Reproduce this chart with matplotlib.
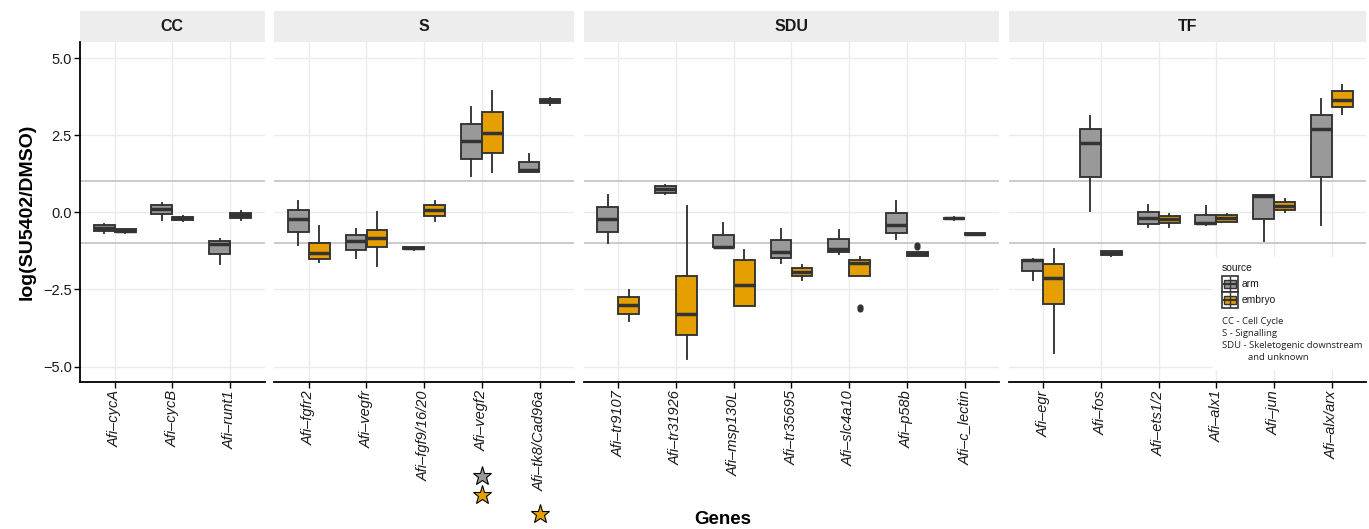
import matplotlib
matplotlib.use("Agg")
import matplotlib.pyplot as plt
from matplotlib.patches import Rectangle
from matplotlib.ticker import FuncFormatter
import matplotlib.transforms as mtrans
import numpy as np

plt.rcParams['font.family'] = ['Liberation Sans', 'DejaVu Sans']

# ---------------- data ----------------
categories = ["CC", "S", "SDU", "TF"]
genes_CC = ["Afi–cycA", "Afi–cycB", "Afi–runt1"]
genes_S = ["Afi–fgfr2", "Afi–vegfr", "Afi–fgf9/16/20", "Afi–vegf2", "Afi–tk8/Cad96a"]
genes_SDU = ["Afi–tr9107", "Afi–tr31926", "Afi–msp130L", "Afi–tr35695",
             "Afi–slc4a10", "Afi–p58b", "Afi–c_lectin"]
genes_TF = ["Afi–egr", "Afi–fos", "Afi–ets1/2", "Afi–alx1", "Afi–jun", "Afi–alx/arx"]
gene_groups = [genes_CC, genes_S, genes_SDU, genes_TF]
all_genes = genes_CC + genes_S + genes_SDU + genes_TF

sources = ["arm", "embryo"]

# arm: lower whisker, Q1, median, Q3, upper whisker
arm_lo  = [-0.66, -0.24, -1.66, -1.05, -1.47, -1.21, 1.18, 1.30, -1.01, 0.58, -1.14, -1.63, -1.36, -0.86, -0.25, -2.20, 0.04, -0.49, -0.40, -0.93, -0.42]
arm_q1  = [-0.61, -0.06, -1.34, -0.64, -1.21, -1.19, 1.73, 1.32, -0.64, 0.64, -1.12, -1.47, -1.29, -0.66, -0.23, -1.91, 1.14, -0.37, -0.39, -0.23, 1.13]
arm_med = [-0.52, 0.12, -1.02, -0.22, -0.92, -1.16, 2.30, 1.38, -0.23, 0.74, -1.11, -1.28, -1.20, -0.42, -0.20, -1.56, 2.25, -0.20, -0.35, 0.52, 2.71]
arm_q3  = [-0.42, 0.24, -0.92, 0.09, -0.72, -1.13, 2.85, 1.64, 0.16, 0.84, -0.72, -0.91, -0.87, -0.01, -0.17, -1.53, 2.70, 0.02, -0.08, 0.55, 3.17]
arm_hi  = [-0.39, 0.30, -0.87, 0.36, -0.53, -1.12, 3.40, 1.90, 0.55, 0.90, -0.35, -0.55, -0.56, 0.37, -0.16, -1.50, 3.12, 0.23, 0.19, 0.56, 3.66]

emb_lo  = [-0.66, -0.27, -0.26, -1.61, -1.74, -0.29, 1.30, 3.49, -3.52, -4.76, -3.05, -2.19, -2.05, -1.41, -0.75, -4.57, -1.40, -0.46, -0.32, 0.00, 3.19]
emb_q1  = [-0.64, -0.26, -0.20, -1.50, -1.14, -0.13, 1.92, 3.53, -3.28, -3.97, -3.05, -2.08, -2.05, -1.40, -0.73, -2.97, -1.39, -0.35, -0.31, 0.08, 3.42]
emb_med = [-0.59, -0.20, -0.10, -1.33, -0.84, 0.06, 2.56, 3.60, -3.00, -3.28, -2.36, -1.94, -1.64, -1.35, -0.70, -2.12, -1.32, -0.23, -0.20, 0.20, 3.65]
emb_q3  = [-0.54, -0.15, -0.01, -1.01, -0.56, 0.24, 3.25, 3.67, -2.76, -2.07, -1.56, -1.80, -1.54, -1.30, -0.68, -1.69, -1.26, -0.13, -0.10, 0.32, 3.93]
emb_hi  = [-0.53, -0.13, 0.05, -0.45, 0.00, 0.38, 3.94, 3.72, -2.52, 0.22, -1.22, -1.71, -1.45, -1.28, -0.66, -1.18, -1.24, -0.07, -0.06, 0.42, 4.14]

arm_outliers = {}
emb_outliers = {"Afi–slc4a10": [-3.07, -3.15], "Afi–p58b": [-1.06, -1.14]}

# significance stars under tick labels: (gene, source)
sig_stars = [("Afi–vegf2", "arm"), ("Afi–vegf2", "embryo"), ("Afi–tk8/Cad96a", "embryo")]

legend_notes = ["CC - Cell Cycle", "S - Signalling", "SDU - Skeletogenic downstream", "and unknown"]

# ---------------- style ----------------
colors = {"arm": "#999999", "embryo": "#E69F00"}
edge = "#333333"
W, H = 1369, 529
left_px, unit, gap = 80, 57.7, 9.5
top_px, bot_px = 42, 382
strip_px = 31
offset = {"arm": -0.182, "embryo": 0.182}
bw = 0.36
star_y = [-0.276, -0.332, -0.388]

fig = plt.figure(figsize=(W / 100, H / 100), dpi=100)

def stats_for(idx, src):
    g = all_genes[idx]
    if src == "arm":
        return dict(whislo=arm_lo[idx], q1=arm_q1[idx], med=arm_med[idx], q3=arm_q3[idx],
                    whishi=arm_hi[idx], fliers=arm_outliers.get(g, []))
    return dict(whislo=emb_lo[idx], q1=emb_q1[idx], med=emb_med[idx], q3=emb_q3[idx],
                whishi=emb_hi[idx], fliers=emb_outliers.get(g, []))

axes = []
x0 = left_px
start = 0
for gi, (cat, genes) in enumerate(zip(categories, gene_groups)):
    n = len(genes)
    wpx = (n + 0.2) * unit
    ax = fig.add_axes([x0 / W, 1 - bot_px / H, wpx / W, (bot_px - top_px) / H])
    axes.append(ax)
    ax.set_xlim(-0.6, n - 0.4)
    ax.set_ylim(-5.5, 5.52)
    ax.set_yticks([-5, -2.5, 0, 2.5, 5])
    ax.set_xticks(np.arange(n))
    ax.set_xticklabels(genes, rotation=90, fontsize=10.5, style='italic', color='#1a1a1a')
    ax.yaxis.set_major_formatter(FuncFormatter(lambda v, p: f"{v:.1f}".replace("-", "\u2212")))
    ax.grid(True, color="#EBEBEB", lw=1.0)
    ax.set_axisbelow(True)
    ax.axhline(1, color="#BDBDBD", lw=1.1, zorder=1.5)
    ax.axhline(-1, color="#BDBDBD", lw=1.1, zorder=1.5)

    for src in sources:
        st = [stats_for(start + k, src) for k in range(n)]
        ax.bxp(st, positions=np.arange(n) + offset[src], widths=bw, patch_artist=True,
               showcaps=False, manage_ticks=False,
               boxprops=dict(facecolor=colors[src], edgecolor=edge, lw=1.35),
               medianprops=dict(color=edge, lw=2.5, solid_capstyle='butt'),
               whiskerprops=dict(color=edge, lw=1.35),
               flierprops=dict(marker='o', markersize=3.4, markerfacecolor=edge,
                               markeredgecolor=edge, lw=0))

    for sp in ["top", "right"]:
        ax.spines[sp].set_visible(False)
    ax.spines["bottom"].set_color("black")
    ax.spines["bottom"].set_linewidth(1.3)
    ax.tick_params(axis='x', length=4, width=1, color='black', pad=2)
    if gi == 0:
        ax.spines["left"].set_color("black")
        ax.spines["left"].set_linewidth(1.3)
        ax.tick_params(axis='y', length=4, width=1, color='black', labelsize=10.5,
                       labelcolor='#1a1a1a', pad=2)
    else:
        ax.spines["left"].set_visible(False)
        ax.tick_params(axis='y', length=0, labelleft=False)

    # strip
    sh = strip_px / (bot_px - top_px)
    ax.add_patch(Rectangle((0, 1.0), 1, sh, transform=ax.transAxes, facecolor="#EDEDED",
                           edgecolor='none', clip_on=False))
    ax.text(0.5, 1 + sh / 2, cat, transform=ax.transAxes, ha='center', va='center',
            fontsize=11.5, fontweight='bold', color='#1a1a1a')

    x0 += wpx + gap
    start += n

# significance stars
for k, (g, src) in enumerate(sig_stars):
    for gi, genes in enumerate(gene_groups):
        if g in genes:
            ax = axes[gi]
            tr = mtrans.blended_transform_factory(ax.transData, ax.transAxes)
            ax.plot([genes.index(g)], [star_y[k]], marker='*', markersize=14,
                    markerfacecolor=colors[src], markeredgecolor='black', markeredgewidth=0.8,
                    transform=tr, clip_on=False, linestyle='none')

# axis titles
fig.text(27 / W, 1 - 212 / H, "log(SU5402/DMSO)", rotation=90, ha='center', va='center',
         fontsize=14, fontweight='bold')
mid = (left_px + x0 - gap) / 2
fig.text(mid / W, 1 - 520 / H, "Genes", ha='center', va='center', fontsize=13.5,
         fontweight='bold')

# legend
lx, ly, lw_, lh = 1213, 257, 155, 113
lax = fig.add_axes([lx / W, 1 - (ly + lh) / H, lw_ / W, lh / H])
lax.set_xlim(0, lw_)
lax.set_ylim(lh, 0)
lax.axis('off')
lax.add_patch(Rectangle((0, 0), lw_, lh, facecolor='white', edgecolor='none'))
lax.text(9, 11, "source", fontsize=7.4, va='center', ha='left', color='#1a1a1a')
for k, src in enumerate(sources):
    y0 = 19 + 16 * k
    lax.add_patch(Rectangle((9, y0), 16, 16, facecolor='white', edgecolor=edge, lw=1.2))
    lax.plot([17, 17], [y0 + 1, y0 + 15], color=edge, lw=1.0)
    lax.add_patch(Rectangle((11, y0 + 4), 12, 8, facecolor=colors[src], edgecolor=edge, lw=1.0))
    lax.plot([11, 23], [y0 + 8, y0 + 8], color=edge, lw=1.6)
    lax.text(29, y0 + 8, src, fontsize=7.4, va='center', ha='left', color='#1a1a1a')
note_pos = [(9, 65), (9, 77), (9, 89), (35, 100)]
for (nx, ny), t in zip(note_pos, legend_notes):
    lax.text(nx, ny, t, fontsize=6.8, va='center', ha='left', family=['Open Sans', 'DejaVu Sans'],
             color='#222222')

fig.savefig("out.png", dpi=100)
